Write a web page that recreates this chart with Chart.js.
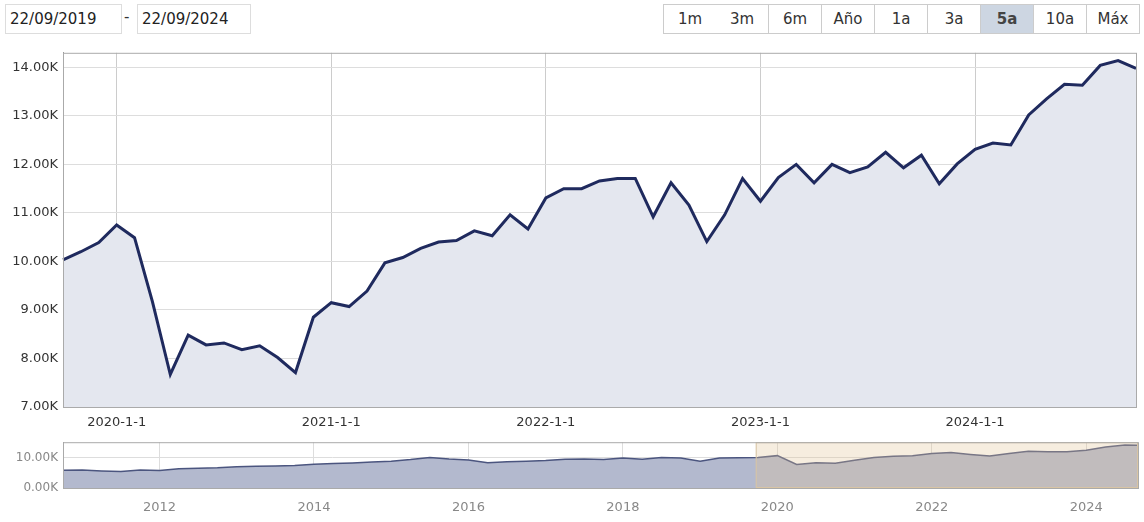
<!DOCTYPE html>
<html><head><meta charset="utf-8">
<script src="https://cdn.jsdelivr.net/npm/chart.js@4"></script>
<style>
body{margin:0;width:1144px;height:522px;background:#fff;font-family:"DejaVu Sans",Verdana,sans-serif;position:relative;overflow:hidden}
.box{position:absolute;top:4px;height:28px;border:1px solid #ccc;font-size:15px;line-height:28px;color:#222;box-sizing:content-box}
.btn{position:absolute;top:4px;height:28px;width:52px;border:1px solid #ccc;border-left:none;font-size:15px;line-height:28px;text-align:center;color:#333;background:#fff}
#c1{position:absolute;left:0;top:40px}
#c2{position:absolute;left:0;top:430px}
</style></head><body>
<div class="box" style="left:5px;width:111px;padding-left:4px;border-color:#ddd">22/09/2019</div>
<div style="position:absolute;left:124px;top:8px;font-size:15px;color:#333">-</div>
<div class="box" style="left:137px;width:108px;padding-left:4px;border-color:#ddd">22/09/2024</div>
<div id="btns"></div>
<canvas id="c1" width="1144" height="392"></canvas>
<canvas id="c2" width="1144" height="92"></canvas>
<script>
const buttonLabels=["1m","3m","6m","Año","1a","3a","5a","10a","Máx"];
const months=["2019-10","2019-11","2019-12","2020-1-1","2020-2","2020-3","2020-4","2020-5","2020-6","2020-7","2020-8","2020-9","2020-10","2020-11","2020-12",
"2021-1-1","2021-2","2021-3","2021-4","2021-5","2021-6","2021-7","2021-8","2021-9","2021-10","2021-11","2021-12",
"2022-1-1","2022-2","2022-3","2022-4","2022-5","2022-6","2022-7","2022-8","2022-9","2022-10","2022-11","2022-12",
"2023-1-1","2023-2","2023-3","2023-4","2023-5","2023-6","2023-7","2023-8","2023-9","2023-10","2023-11","2023-12",
"2024-1-1","2024-2","2024-3","2024-4","2024-5","2024-6","2024-7","2024-8","2024-9","2024-9b"];
const values=[10.03,10.20,10.39,10.75,10.49,9.17,7.67,8.48,8.28,8.32,8.18,8.26,8.02,7.71,8.85,
9.15,9.07,9.39,9.97,10.08,10.27,10.40,10.43,10.63,10.53,10.96,10.67,
11.31,11.50,11.50,11.66,11.71,11.71,10.92,11.62,11.16,10.41,10.96,11.71,
11.24,11.73,12.00,11.62,12.00,11.83,11.95,12.25,11.93,12.19,11.60,12.01,
12.31,12.44,12.40,13.02,13.35,13.65,13.63,14.04,14.14,13.98];
const navYears=[2010.75,2011,2011.25,2011.5,2011.75,2012,2012.25,2012.5,2012.75,2013,2013.25,2013.5,2013.75,2014,2014.25,2014.5,2014.75,2015,2015.25,2015.5,2015.75,2016,2016.25,2016.5,2016.75,2017,2017.25,2017.5,2017.75,2018,2018.25,2018.5,2018.75,2019,2019.25,2019.5,2019.75,2020,2020.25,2020.5,2020.75,2021,2021.25,2021.5,2021.75,2022,2022.25,2022.5,2022.75,2023,2023.25,2023.5,2023.75,2024,2024.25,2024.5,2024.67];
const navValues=[5.8,5.9,5.6,5.4,5.9,5.7,6.3,6.5,6.6,7.0,7.1,7.2,7.4,7.8,8.0,8.2,8.5,8.8,9.3,10.0,9.5,9.2,8.3,8.6,8.8,9.0,9.4,9.5,9.3,9.8,9.4,10.0,9.8,8.8,9.8,9.9,10.0,10.6,7.7,8.3,8.1,9.1,10.0,10.4,10.6,11.3,11.6,11.0,10.5,11.3,12.0,11.9,11.9,12.4,13.4,14.1,14.0];
const selStart=2019.72, selEnd=2024.67;

const bd=document.getElementById('btns');
buttonLabels.forEach((t,i)=>{const d=document.createElement('div');d.className='btn';d.textContent=t;d.style.left=(663+i*53)+'px';
 if(i==0)d.style.borderLeft='1px solid #ccc';
 if(t==='5a'){d.style.background='#cdd6e2';d.style.fontWeight='bold';d.style.color='#444';}
 bd.appendChild(d);});

const fmt=v=>v.toFixed(2)+'K';
new Chart(document.getElementById('c1'),{type:'line',
 data:{labels:months,datasets:[{data:values,borderColor:'#1f2a5e',borderWidth:3,backgroundColor:'#e4e7ef',fill:'origin',pointRadius:0,tension:0}]},
 options:{animation:false,responsive:false,events:[],
  layout:{padding:{top:8,right:6,left:0,bottom:0}},
  plugins:{legend:{display:false},tooltip:{enabled:false}},
  scales:{
   x:{offset:false,afterFit:s=>{s.height=25},border:{color:'#999'},
      grid:{color:c=>(months[c.index]||'').endsWith('-1-1')?'#ccc':'rgba(0,0,0,0)',drawTicks:false},
      ticks:{autoSkip:false,maxRotation:0,padding:8,color:'#333',font:{size:13,family:'DejaVu Sans'},
        callback:(v,i)=>months[i].endsWith('-1-1')?months[i]:''}},
   y:{min:7,max:14.3,afterFit:s=>{s.width=63},border:{color:'#999'},
      afterBuildTicks:s=>{s.ticks=[7,8,9,10,11,12,13,14].map(v=>({value:v}))},
      grid:{color:'#ddd',drawTicks:false},
      ticks:{padding:5,color:'#333',font:{size:13,family:'DejaVu Sans'},callback:v=>fmt(v)}}
  }},
 plugins:[{id:'frame',afterDraw(ch){const a=ch.chartArea,c=ch.ctx;c.save();c.strokeStyle='#aaa';c.lineWidth=1;c.strokeRect(a.left+0.5,a.top+0.5,a.width,a.height);c.restore();}}]
});

new Chart(document.getElementById('c2'),{type:'line',
 data:{datasets:[{data:navYears.map((x,i)=>({x,y:navValues[i]})),borderColor:'#4b557f',borderWidth:1.5,backgroundColor:'#b3b9ce',fill:'origin',pointRadius:0,tension:0}]},
 options:{animation:false,responsive:false,events:[],
  layout:{padding:{top:8,right:6,left:0,bottom:0}},
  plugins:{legend:{display:false},tooltip:{enabled:false}},
  scales:{
   x:{type:'linear',min:2010.75,max:2024.67,afterFit:s=>{s.height=34},border:{color:'#999'},
      afterBuildTicks:s=>{s.ticks=[2012,2014,2016,2018,2020,2022,2024].map(v=>({value:v}))},
      grid:{color:'#ddd',drawTicks:false},
      ticks:{padding:12,color:'#888',font:{size:13,family:'DejaVu Sans'},callback:v=>String(v)}},
   y:{min:0,max:15,afterFit:s=>{s.width=63},border:{color:'#999'},
      afterBuildTicks:s=>{s.ticks=[0,5,10,15].map(v=>({value:v}))},
      grid:{color:'#ddd',drawTicks:false},
      ticks:{padding:5,color:'#888',font:{size:12,family:'DejaVu Sans'},callback:v=>v.toFixed(2)+'K'}}
  }},
 plugins:[{id:'sel',afterDatasetsDraw(ch){const a=ch.chartArea,c=ch.ctx,x=ch.scales.x;
   const x0=x.getPixelForValue(selStart),x1=x.getPixelForValue(selEnd);
   c.save();c.fillStyle='rgba(225,195,150,0.3)';c.fillRect(x0,a.top,x1-x0,a.height);
   c.strokeStyle='#d8c4a4';c.lineWidth=1;c.strokeRect(x0+0.5,a.top+0.5,x1-x0-1,a.height-1);
   c.strokeStyle='#aaa';c.strokeRect(a.left+0.5,a.top+0.5,a.width,a.height);c.restore();}}]
});
</script></body></html>
